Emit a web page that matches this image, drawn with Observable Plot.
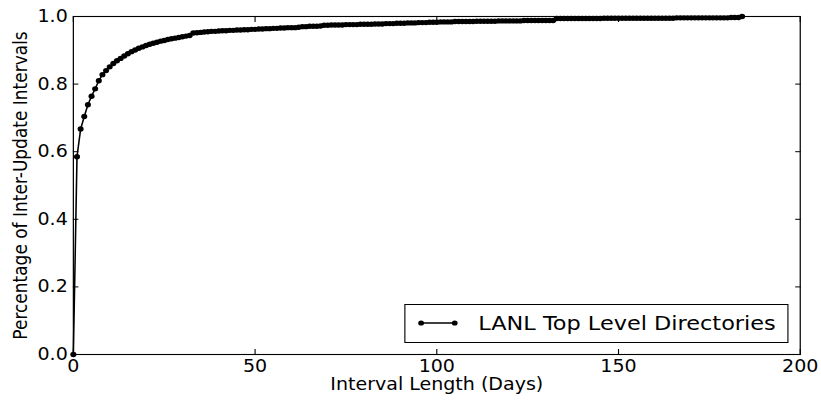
<!DOCTYPE html>
<html><head><meta charset="utf-8">
<script src="https://cdn.jsdelivr.net/npm/d3@7"></script>
<script src="https://cdn.jsdelivr.net/npm/@observablehq/plot@0.6"></script>
<style>
html,body{margin:0;padding:0;background:#fff;}
#wrap{position:relative;width:733px;height:407px;transform:scaleX(1.12);transform-origin:0 0;}
#legend{position:absolute;left:361px;top:304px;width:343px;height:39px;border:1px solid #000;box-sizing:border-box;background:#fff;font-family:"DejaVu Sans";font-size:20px;}
#legend svg{position:absolute;left:0;top:0;}
#legend span{position:absolute;left:65px;top:6px;white-space:nowrap;line-height:24px;}
</style></head><body>
<div id="wrap"><div id="plot"></div>
<div id="legend"><svg width="60" height="37"><line x1="14" y1="18" x2="44" y2="18" stroke="#000" stroke-width="1.3"/><circle cx="14" cy="18" r="2.6"/><circle cx="44" cy="18" r="2.6"/></svg><span id="legtext"></span></div>
</div>
<script>
const seriesName = "LANL Top Level Directories";
const xLabel = "Interval Length (Days)";
const yLabel = "Percentage of Inter-Update Intervals";
const xTicks = [0, 50, 100, 150, 200];
const yTicks = [0.0, 0.2, 0.4, 0.6, 0.8, 1.0];
// cumulative fraction of inter-update intervals, one value per day (0..184)
const cdf = [
  0.000, 0.585, 0.667, 0.704, 0.739, 0.764, 0.786, 0.810, 0.828, 0.840,
  0.851, 0.861, 0.869, 0.876, 0.883, 0.890, 0.896, 0.901, 0.906, 0.910,
  0.914, 0.918, 0.921, 0.924, 0.927, 0.929, 0.932, 0.934, 0.936, 0.938,
  0.940, 0.942, 0.944, 0.951, 0.952, 0.953, 0.954, 0.955, 0.956, 0.956,
  0.957, 0.958, 0.958, 0.959, 0.959, 0.960, 0.960, 0.961, 0.961, 0.962,
  0.962, 0.963, 0.963, 0.964, 0.964, 0.965, 0.965, 0.966, 0.966, 0.967,
  0.967, 0.967, 0.968, 0.970, 0.970, 0.971, 0.971, 0.971, 0.972, 0.974,
  0.974, 0.975, 0.975, 0.975, 0.975, 0.976, 0.976, 0.976, 0.976, 0.977,
  0.977, 0.977, 0.977, 0.978, 0.978, 0.978, 0.979, 0.979, 0.979, 0.980,
  0.980, 0.980, 0.981, 0.981, 0.981, 0.982, 0.982, 0.982, 0.983, 0.983,
  0.983, 0.984, 0.984, 0.984, 0.984, 0.985, 0.985, 0.985, 0.985, 0.985,
  0.985, 0.986, 0.986, 0.986, 0.986, 0.986, 0.986, 0.987, 0.987, 0.987,
  0.987, 0.987, 0.987, 0.987, 0.988, 0.988, 0.988, 0.988, 0.988, 0.988,
  0.988, 0.988, 0.988, 0.994, 0.994, 0.994, 0.994, 0.994, 0.994, 0.994,
  0.994, 0.994, 0.994, 0.994, 0.994, 0.994, 0.995, 0.995, 0.995, 0.995,
  0.995, 0.995, 0.995, 0.995, 0.995, 0.995, 0.995, 0.995, 0.995, 0.995,
  0.995, 0.995, 0.995, 0.995, 0.995, 0.995, 0.996, 0.996, 0.996, 0.996,
  0.996, 0.996, 0.996, 0.996, 0.996, 0.996, 0.996, 0.996, 0.996, 0.996,
  0.996, 0.997, 0.997, 0.997, 1.000
];
const data = cdf.map((v, i) => ({day: i, frac: v}));

document.getElementById("legtext").textContent = seriesName;

const chart = Plot.plot({
  width: 733, height: 407,
  marginLeft: 65, marginRight: 19, marginTop: 16, marginBottom: 53,
  style: {fontFamily: "DejaVu Sans", fontSize: "17px", background: "white", color: "black"},
  x: {domain: [0, 200]},
  y: {domain: [0, 1]},
  marks: [
    Plot.axisX(xTicks, {anchor: "bottom", tickSize: -5, fill: "none", label: null}),
    Plot.axisX(xTicks, {anchor: "top", tickSize: -5, fill: "none", label: null}),
    Plot.axisY(yTicks, {anchor: "left", tickSize: -5, fill: "none", label: null}),
    Plot.axisY(yTicks, {anchor: "right", tickSize: -5, fill: "none", label: null}),
    Plot.axisX(xTicks, {anchor: "bottom", tickSize: 0, tickPadding: 5, label: null, tickFormat: d => String(d)}),
    Plot.axisY(yTicks, {anchor: "left", tickSize: 0, tickPadding: 5, label: null, tickFormat: d => d.toFixed(1)}),
    Plot.line(data, {x: "day", y: "frac", stroke: "black", strokeWidth: 1.4}),
    Plot.dot(data, {x: "day", y: "frac", r: 2.7, fill: "black", stroke: "none"}),
    Plot.frame({stroke: "black", strokeWidth: 1.1}),
    Plot.text([xLabel], {frameAnchor: "bottom", dy: 30, lineAnchor: "middle", textAnchor: "middle", text: d => d, fill: "black"}),
    Plot.text([yLabel], {frameAnchor: "left", dx: -47, rotate: -90, lineAnchor: "middle", textAnchor: "middle", text: d => d, fill: "black"})
  ]
});
document.getElementById("plot").appendChild(chart);
</script>
</body></html>
